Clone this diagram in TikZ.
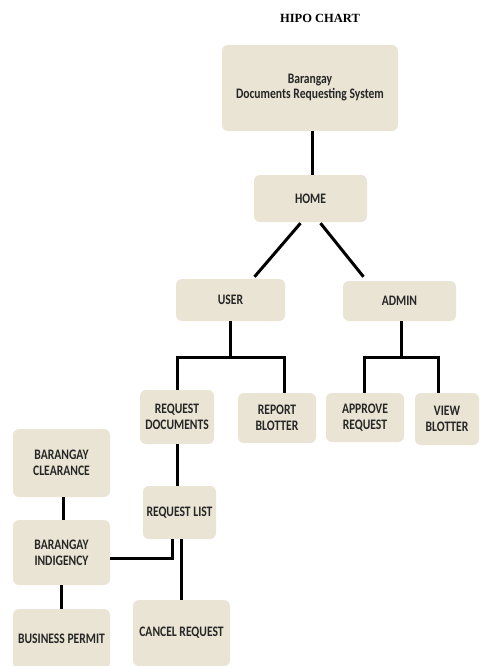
\documentclass[tikz,border=0pt]{standalone}
\usepackage{fontspec}
\setmainfont{Carlito}
\newfontfamily\boxfont[FakeStretch=0.8]{Carlito}
\newfontfamily\titlefont{Liberation Serif}
\usetikzlibrary{calc}
\definecolor{boxfill}{HTML}{E9E4D4}
\definecolor{boxtext}{HTML}{262626}
\tikzset{
  block/.style={rectangle,rounded corners=6pt,fill=boxfill,text=boxtext,
    inner sep=0pt,align=center,font=\boxfont\bfseries\fontsize{14.5}{16}\selectfont},
  link/.style={line width=3pt,black}
}
\begin{document}
\begin{tikzpicture}[x=1pt,y=-1pt]
  \useasboundingbox[fill=white] (0,0) rectangle (481,666);
  \node[font=\titlefont\bfseries\fontsize{12.5}{14}\selectfont] (title) at (320,18) {HIPO CHART};
  \node[block,minimum width=176pt,minimum height=86pt,font=\boxfont\bfseries\fontsize{14.5}{15}\selectfont] (root) at (310,88) {Barangay\\Documents Requesting System};
  \node[block,minimum width=113pt,minimum height=47pt] (home) at (310.5,198.5) {HOME};
  \node[block,minimum width=109pt,minimum height=42pt] (user) at (230.5,300) {USER};
  \node[block,minimum width=113pt,minimum height=40pt] (admin) at (399.5,301) {ADMIN};
  \node[block,minimum width=74pt,minimum height=54pt] (reqdoc) at (177,417) {REQUEST\\DOCUMENTS};
  \node[block,minimum width=78pt,minimum height=50pt] (report) at (277,418) {REPORT\\BLOTTER};
  \node[block,minimum width=78pt,minimum height=49pt] (approve) at (365,417.5) {APPROVE\\REQUEST};
  \node[block,minimum width=64pt,minimum height=52pt] (view) at (447,419) {VIEW\\BLOTTER};
  \node[block,minimum width=97pt,minimum height=68pt] (clearance) at (61.5,463) {BARANGAY\\CLEARANCE};
  \node[block,minimum width=73pt,minimum height=53pt] (reqlist) at (179.5,512.5) {REQUEST LIST};
  \node[block,minimum width=97pt,minimum height=65pt] (indigency) at (61.5,552.5) {BARANGAY\\INDIGENCY};
  \node[block,minimum width=97pt,minimum height=66pt] (cancel) at (181.5,633) {CANCEL REQUEST};
  \node[block,minimum width=97pt,minimum height=60pt] (business) at (61.5,639) {BUSINESS PERMIT};

  \draw[link] ($(root.south)+(2,0)$) -- ($(home.north)+(1.5,0)$);
  \draw[link] ($(home.south)+(-10,1)$) -- ($(user.north)+(24,-2)$);
  \draw[link] ($(home.south)+(10,1)$) -- ($(admin.north)+(-36,-4)$);
  \draw[link] (user.south) -- ++(0,36) coordinate (ufork) -| (reqdoc.north);
  \draw[link] (ufork) -| ($(report.north)+(7,0)$);
  \draw[link] ($(admin.south)+(1.5,0)$) -- ++(0,36) coordinate (afork) -| ($(approve.north)+(-1,0)$);
  \draw[link] (afork) -| ($(view.north)+(-9,0)$);
  \draw[link] (reqdoc.south) -- (reqdoc.south |- reqlist.north);
  \draw[link] ($(indigency.east)+(0,5.5)$) -| ($(reqlist.south)+(-7.5,0)$);
  \draw[link] (cancel.north |- reqlist.south) -- (cancel.north);
  \draw[link] ($(clearance.south)+(1.5,0)$) -- ($(indigency.north)+(1.5,0)$);
  \draw[link] (indigency.south) -- (indigency.south |- business.north);
\end{tikzpicture}
\end{document}
